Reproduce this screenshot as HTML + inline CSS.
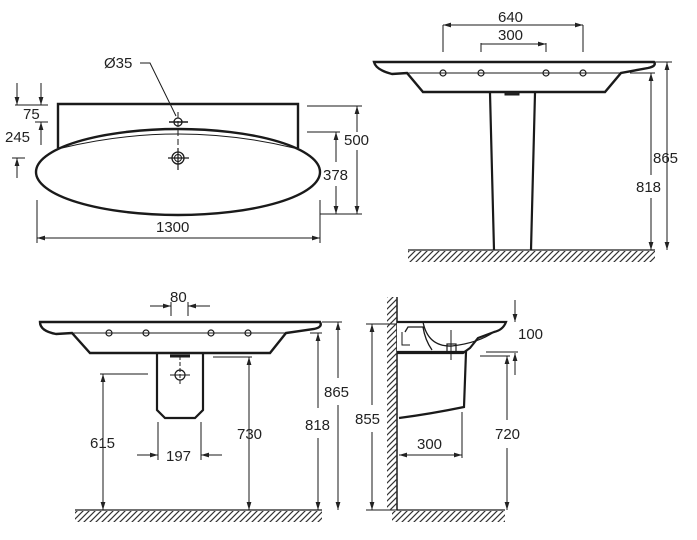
<!DOCTYPE html>
<html><head><meta charset="utf-8"><style>
html,body{margin:0;padding:0;background:#fff;}
svg{display:block;}
text{font-family:"Liberation Sans",Arial,sans-serif;font-size:15px;fill:#222;}
</style></head><body>
<svg width="697" height="540" viewBox="0 0 697 540" xmlns="http://www.w3.org/2000/svg">
<defs>
<marker id="a" viewBox="0 0 10 10" refX="10" refY="5" markerWidth="8" markerHeight="8" orient="auto-start-reverse" markerUnits="userSpaceOnUse"><path d="M0,2 L10,5 L0,8 z" fill="#222"/></marker>
<pattern id="h" width="6" height="6" patternUnits="userSpaceOnUse"><path d="M-1,7 L7,-1 M-1,1 L1,-1 M5,7 L7,5" stroke="#333" stroke-width="1.2"/></pattern>
</defs>
<g fill="none" stroke="#1a1a1a">
<!-- TOP LEFT -->
<path d="M58,148 V104 H298 V148" stroke-width="2.4"/>
<ellipse cx="178" cy="172" rx="142" ry="43" stroke-width="2.4" fill="#fff"/>
<path d="M62,148 Q178,120 294,148" stroke-width="1"/>
<circle cx="178" cy="122" r="4" stroke-width="1.3"/>
<line x1="169" y1="122" x2="188" y2="122" stroke-width="1.5"/>
<line x1="178" y1="112" x2="178" y2="148" stroke-width="1" stroke-dasharray="6,3"/>
<circle cx="178" cy="158" r="6" stroke-width="1.3"/><circle cx="178" cy="158" r="3.5" stroke-width="1"/>
<line x1="168" y1="158" x2="189" y2="158" stroke-width="1.2"/><line x1="178" y1="148" x2="178" y2="170" stroke-width="1.2"/>
<path d="M140,63 H150 L176,116" stroke-width="1"/>
<g stroke-width="1">
<line x1="37" y1="200" x2="37" y2="243"/><line x1="320" y1="200" x2="320" y2="243"/>
<line x1="37" y1="238" x2="320" y2="238" marker-start="url(#a)" marker-end="url(#a)"/>
<line x1="307" y1="106" x2="362" y2="106"/><line x1="320" y1="214" x2="362" y2="214"/><line x1="307" y1="132" x2="340" y2="132"/>
<line x1="357" y1="132" x2="357" y2="106" marker-end="url(#a)"/><line x1="357" y1="150" x2="357" y2="214" marker-end="url(#a)"/>
<line x1="336" y1="162" x2="336" y2="132" marker-end="url(#a)"/><line x1="336" y1="186" x2="336" y2="214" marker-end="url(#a)"/>
<line x1="15" y1="105" x2="48" y2="105"/><line x1="35" y1="122" x2="48" y2="122"/><line x1="12" y1="158" x2="25" y2="158"/>
<line x1="17" y1="83" x2="17" y2="105" marker-end="url(#a)"/><line x1="41" y1="83" x2="41" y2="105" marker-end="url(#a)"/>
<line x1="41" y1="145" x2="41" y2="122" marker-end="url(#a)"/><line x1="17" y1="178" x2="17" y2="158" marker-end="url(#a)"/>
</g>
<!-- TOP RIGHT -->
<path d="M374,62 H654 Q657,66 648,68 L621,73 L605,92 H423 L407,73 L392,74 Q376,70 374,62 Z" stroke-width="2.4" fill="#fff"/>
<line x1="407" y1="73" x2="621" y2="73" stroke-width="1"/>
<path d="M490,93 L494,250 M535,93 L531,250" stroke-width="2.2"/>
<rect x="505" y="92" width="14" height="3" fill="#222"/>
<g stroke-width="1.2"><circle cx="443" cy="73" r="3"/><circle cx="481" cy="73" r="3"/><circle cx="546" cy="73" r="3"/><circle cx="583" cy="73" r="3"/></g>
<g stroke-width="1">
<line x1="443" y1="25" x2="443" y2="52"/><line x1="583" y1="25" x2="583" y2="52"/><line x1="481" y1="43" x2="481" y2="52"/><line x1="546" y1="43" x2="546" y2="52"/>
<line x1="443" y1="25" x2="583" y2="25" marker-start="url(#a)" marker-end="url(#a)"/>
<line x1="481" y1="44" x2="546" y2="44" marker-end="url(#a)"/>
<line x1="640" y1="62" x2="672" y2="62"/><line x1="630" y1="73" x2="655" y2="73"/>
<line x1="667" y1="62" x2="667" y2="250" marker-start="url(#a)" marker-end="url(#a)"/>
<line x1="651" y1="175" x2="651" y2="73" marker-end="url(#a)"/><line x1="651" y1="198" x2="651" y2="250" marker-end="url(#a)"/>
</g>
<line x1="408" y1="250" x2="655" y2="250" stroke-width="1.2"/>
<!-- BOTTOM LEFT -->
<path d="M40,322 H320 Q323,327 314,329 L286,333 L270,353 H90 L72,333 L56,334 Q40,331 40,322 Z" stroke-width="2.4" fill="#fff"/>
<line x1="72" y1="333" x2="286" y2="333" stroke-width="1"/>
<g stroke-width="1.2"><circle cx="109" cy="333" r="3"/><circle cx="146" cy="333" r="3"/><circle cx="211" cy="333" r="3"/><circle cx="248" cy="333" r="3"/></g>
<path d="M157,353 V410 L165,418 H195 L203,410 V353" stroke-width="2.2"/>
<line x1="170" y1="356" x2="190" y2="356" stroke-width="3"/>
<circle cx="180" cy="375" r="5" stroke-width="1.2"/><line x1="170" y1="375" x2="190" y2="375" stroke-width="1"/><line x1="180" y1="356" x2="180" y2="386" stroke-width="1" stroke-dasharray="4,2"/>
<g stroke-width="1">
<line x1="150" y1="306" x2="171" y2="306" marker-end="url(#a)"/><line x1="210" y1="306" x2="188" y2="306" marker-end="url(#a)"/>
<line x1="171" y1="302" x2="171" y2="316"/><line x1="188" y1="302" x2="188" y2="316"/>
<line x1="100" y1="374" x2="148" y2="374"/><line x1="213" y1="357" x2="252" y2="357"/>
<line x1="103" y1="374" x2="103" y2="510" marker-start="url(#a)" marker-end="url(#a)"/>
<line x1="249" y1="357" x2="249" y2="510" marker-start="url(#a)" marker-end="url(#a)"/>
<line x1="310" y1="333" x2="322" y2="333"/><line x1="322" y1="322" x2="342" y2="322"/>
<line x1="318" y1="408" x2="318" y2="333" marker-end="url(#a)"/><line x1="318" y1="438" x2="318" y2="510" marker-end="url(#a)"/>
<line x1="338" y1="378" x2="338" y2="322" marker-end="url(#a)"/><line x1="338" y1="405" x2="338" y2="510" marker-end="url(#a)"/>
<line x1="158" y1="422" x2="158" y2="460"/><line x1="201" y1="422" x2="201" y2="460"/>
<line x1="137" y1="455" x2="158" y2="455" marker-end="url(#a)"/><line x1="222" y1="455" x2="201" y2="455" marker-end="url(#a)"/>
</g>
<line x1="75" y1="510" x2="322" y2="510" stroke-width="1.2"/>
<!-- BOTTOM RIGHT -->
<line x1="397" y1="297" x2="397" y2="510" stroke-width="1.5"/>
<line x1="397" y1="510" x2="505" y2="510" stroke-width="1.2"/>
<path d="M397,322 H506 Q503,330 494,332 L478,338 L470,348 L463,353 H397" stroke-width="2.2" fill="#fff"/>
<path d="M405,332 L408,327 H423 Q425,340 432,350 M423,322 Q428,347 452,346 Q478,343 494,332" stroke-width="1.3"/>
<path d="M402,332 V345 H410" stroke-width="1"/>
<rect x="447" y="344" width="9" height="9" stroke-width="1.2"/>
<line x1="451" y1="330" x2="451" y2="360" stroke-width="1"/>
<path d="M397,352 H466 L464,407 Q430,414 399,418" stroke-width="2.2"/>
<g stroke-width="1">
<line x1="366" y1="324" x2="397" y2="324"/><line x1="366" y1="510" x2="397" y2="510"/>
<line x1="372" y1="405" x2="372" y2="324" marker-end="url(#a)"/><line x1="372" y1="432" x2="372" y2="510" marker-end="url(#a)"/>
<line x1="486" y1="352" x2="518" y2="352"/><line x1="480" y1="356" x2="510" y2="356"/>
<line x1="515" y1="300" x2="515" y2="322" marker-end="url(#a)"/><line x1="515" y1="375" x2="515" y2="353" marker-end="url(#a)"/>
<line x1="507" y1="420" x2="507" y2="356" marker-end="url(#a)"/><line x1="507" y1="448" x2="507" y2="510" marker-end="url(#a)"/>
<line x1="462" y1="412" x2="462" y2="458"/>
<line x1="399" y1="455" x2="462" y2="455" marker-start="url(#a)" marker-end="url(#a)"/>
</g>
</g>
<!-- hatches -->
<rect x="408" y="251" width="247" height="11" fill="url(#h)"/>
<rect x="75" y="511" width="247" height="11" fill="url(#h)"/>
<rect x="387" y="297" width="10" height="213" fill="url(#h)"/>
<rect x="392" y="511" width="113" height="11" fill="url(#h)"/>
<!-- labels -->
<text x="104" y="68">Ø35</text>
<text x="23" y="119">75</text>
<text x="5" y="142">245</text>
<text x="344" y="145">500</text>
<text x="323" y="180">378</text>
<text x="156" y="232">1300</text>
<text x="498" y="22">640</text>
<text x="498" y="40">300</text>
<text x="653" y="163">865</text>
<text x="636" y="192">818</text>
<text x="170" y="302">80</text>
<text x="90" y="448">615</text>
<text x="237" y="439">730</text>
<text x="305" y="430">818</text>
<text x="324" y="397">865</text>
<text x="166" y="461">197</text>
<text x="355" y="424">855</text>
<text x="518" y="339">100</text>
<text x="495" y="439">720</text>
<text x="417" y="449">300</text>
</svg>
</body></html>
